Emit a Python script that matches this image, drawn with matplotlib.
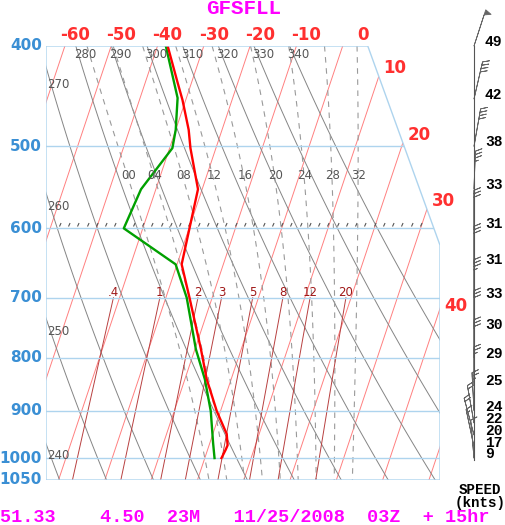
import numpy as np
import matplotlib
matplotlib.use("Agg")
import matplotlib.pyplot as plt
from matplotlib.patches import Polygon
from matplotlib.path import Path
from matplotlib.transforms import offset_copy

# ---- sounding (hPa, degC) ----
temp_p = [400, 434, 451, 482, 502, 550, 650, 700, 785, 839, 901, 948, 972, 982, 1000]
temp_t = [-37.8, -33.0, -30.7, -27.2, -25.5, -20.9, -19.0, -14.9, -8.7, -5.3, -0.8, 3.0, 4.0, 3.9, 3.6]
dewp_p = [400, 449, 482, 502, 550, 600, 650, 700, 785, 839, 901, 967, 1000]
dewp_t = [-38.2, -31.9, -30.0, -29.4, -33.2, -34.1, -20.3, -15.5, -9.8, -5.7, -2.1, 0.7, 2.1]

# winds: speed (kt) and shaft angle (deg clockwise from straight up)
wind_p = [400, 450, 500, 550, 600, 650, 700, 750, 800, 850, 900, 925, 950, 975, 1000]
wind_kt = [49, 42, 38, 33, 31, 31, 33, 30, 29, 25, 24, 22, 20, 17, 9]
wind_ang = [18, 13, 10, 2, 0, 0, 0, 0, 0, 0, -3, -10, -15, -12, -5]

# background line sets
pres_ticks = [400, 500, 600, 700, 800, 900, 1000, 1050]
isobars = [500, 600, 700, 800, 900, 1000]
isotherms = list(range(-60, 51, 10))
top_t_labels = [-60, -50, -40, -30, -20, -10, 0]
side_t_labels = [10, 20, 30, 40]
thetas = list(range(240, 341, 10))
theta_top_labels = [280, 290, 300, 310, 320, 330, 340]
theta_side_labels = [270, 260, 250, 240]
theta_side_p = [436, 572, 754, 995]
theta_w = list(range(0, 33, 4))
mix_ratio = [0.4, 1, 2, 3, 5, 8, 12, 20]
mix_text = [".4", "1", "2", "3", "5", "8", "12", "20"]
freeze_p = 600

title = "GFSFLL"
footer = "51.33    4.50  23M   11/25/2008  03Z  + 15hr"

SKEW = 32.5
X_LEFT, X_RIGHT = -34.3, 50.8
X_CORNER, P_KNEE = 35.2, 623

BLUE = "#3a8fd4"
LBLUE = "#aed4ee"
RED = "#ff3030"
MAG = "#ff00ff"


def skew_x(t, p):
    return np.asarray(t, float) + SKEW * np.log(1000.0 / np.asarray(p, float))


def esat(tc):
    return 6.112 * np.exp(17.67 * tc / (tc + 243.5))


def moist_curve(tw, p):
    # pseudo-adiabat through (1000 hPa, tw), integrated in ln p with RK4
    Rd, Cp, Lv, eps = 287.04, 1005.7, 2.501e6, 0.622

    def slope(T, pp):
        es = esat(T - 273.15)
        rs = eps * es / (pp - es)
        return (Rd * T + Lv * rs) / (Cp + Lv ** 2 * rs * eps / (Rd * T ** 2))

    res = {}
    for targets in (np.sort(p[p <= 1000])[::-1], np.sort(p[p > 1000])):
        T, pc = tw + 273.15, 1000.0
        for pt in targets:
            n = 8
            h = (np.log(pt) - np.log(pc)) / n
            for _ in range(n):
                lp = np.log(pc)
                k1 = slope(T, np.exp(lp))
                k2 = slope(T + h * k1 / 2, np.exp(lp + h / 2))
                k3 = slope(T + h * k2 / 2, np.exp(lp + h / 2))
                k4 = slope(T + h * k3, np.exp(lp + h))
                T += h * (k1 + 2 * k2 + 2 * k3 + k4) / 6
                pc = np.exp(lp + h)
            res[pt] = T - 273.15
    pp = np.array(sorted(res))
    tt = np.array([res[k] for k in pp])
    return pp, tt


fig = plt.figure(figsize=(5.06, 5.25), dpi=100)
ax = fig.add_axes([46 / 506, 45 / 525, 394 / 506, 434 / 525])
ax.set_yscale("log")
ax.set_ylim(1050, 400)
ax.set_xlim(X_LEFT, X_RIGHT)
ax.set_axis_off()

frame = Polygon([(X_LEFT, 1050), (X_LEFT, 400), (X_CORNER, 400),
                 (X_RIGHT, P_KNEE), (X_RIGHT, 1050)], closed=True,
                fill=False, edgecolor=LBLUE, lw=1.0, zorder=6,
                transform=ax.transData)
ax.add_patch(frame)

p_all = np.geomspace(400, 1050, 120)


def clipped(lines):
    for ln in lines:
        ln.set_clip_path(frame)


# isotherms
for t in isotherms:
    clipped(ax.plot(skew_x(np.full_like(p_all, t), p_all), p_all,
                    color="#ff8080", lw=0.7, zorder=2))

# dry adiabats
for th in thetas:
    tt = th * (p_all / 1000.0) ** 0.2857 - 273.15
    clipped(ax.plot(skew_x(tt, p_all), p_all, color="#858585", lw=0.7, zorder=2))

# moist adiabats
for tw in theta_w:
    pp, tt = moist_curve(tw, p_all)
    clipped(ax.plot(skew_x(tt, pp), pp, color="#9a9a9a", lw=0.8,
                    ls=(0, (5, 5)), zorder=2))
    lp = 534.0
    tl = np.interp(np.log(lp), np.log(pp), tt)
    ax.text(skew_x(tl, lp), lp, f"{tw:02d}", ha="center", va="center",
            fontsize=8.5, color="#555555", zorder=7,
            transform=offset_copy(ax.transData, fig=fig, x=1, y=0, units="dots"))

# mixing ratio lines below 700 hPa
p_low = np.geomspace(700, 1050, 40)
for w, lab in zip(mix_ratio, mix_text):
    e = (w / 1000.0) * p_low / (0.622 + w / 1000.0)
    td = 243.5 * np.log(e / 6.112) / (17.67 - np.log(e / 6.112))
    clipped(ax.plot(skew_x(td, p_low), p_low, color="#b84040", lw=0.7, zorder=2))
    ax.text(skew_x(td[0], 700), 700, lab, ha="center", va="bottom",
            fontsize=8.5, color="#a01818", zorder=7,
            transform=offset_copy(ax.transData, fig=fig, x=0, y=-1, units="dots"))

# isobars
for p in isobars:
    clipped(ax.plot([X_LEFT, X_RIGHT], [p, p], color=LBLUE, lw=1.0, zorder=3))

# tick marks along the 600 hPa line
tick = Path([(0, 0), (0.45, 1.0)], [Path.MOVETO, Path.LINETO])
fx = np.arange(-31.75, 46.5, 2.0)
ax.plot(fx, np.full_like(fx, freeze_p), ls="none", marker=tick, ms=5,
        mew=0.8, color="#555555", zorder=4,
        transform=offset_copy(ax.transData, fig=fig, x=1, y=2, units="dots"))

# sounding
clipped(ax.plot(skew_x(dewp_t, dewp_p), dewp_p, color="#00a000", lw=1.7,
                zorder=5, solid_joinstyle="round"))
clipped(ax.plot(skew_x(temp_t, temp_p), temp_p, color="#ff0000", lw=1.7,
                zorder=5, solid_joinstyle="round"))

# pressure labels
for p in pres_ticks:
    ax.text(X_LEFT, p, str(p), ha="right", va="center", fontsize=11,
            fontweight="bold", color=BLUE,
            transform=offset_copy(ax.transData, fig=fig, x=-4, y=0, units="dots"))

# top temperature labels
for t in top_t_labels:
    dx = 20 if t == 0 else 10
    ax.text(skew_x(t, 400), 400, str(t), ha="center", va="center", fontsize=12,
            fontweight="bold", color=RED,
            transform=offset_copy(ax.transData, fig=fig, x=dx, y=11, units="dots"))

# side temperature labels where isotherms meet the right edge
l4, lk = np.log(400), np.log(P_KNEE)
for t in side_t_labels:
    a = (X_RIGHT - X_CORNER) / (lk - l4)
    lp = (t + SKEW * np.log(1000) - X_CORNER + a * l4) / (SKEW + a)
    dy = 8
    if lp > lk:
        lp = np.log(1000) - (X_RIGHT - t) / SKEW
        dy = 3
    p = np.exp(lp)
    ax.text(skew_x(t, p), p, str(t), ha="center", va="center", fontsize=12,
            fontweight="bold", color=RED,
            transform=offset_copy(ax.transData, fig=fig, x=16, y=dy, units="dots"))

# theta labels
for th in theta_top_labels:
    t4 = th * 0.4 ** 0.2857 - 273.15
    ax.text(skew_x(t4, 400), 400, str(th), ha="left", va="center", fontsize=8.5,
            color="#555555", zorder=7,
            transform=offset_copy(ax.transData, fig=fig, x=-2, y=-9, units="dots"))
for th, p in zip(theta_side_labels, theta_side_p):
    ax.text(X_LEFT, p, str(th), ha="left", va="center", fontsize=8.5,
            color="#555555", zorder=7,
            transform=offset_copy(ax.transData, fig=fig, x=1, y=0, units="dots"))

# ---- wind column ----
axw = fig.add_axes([450 / 506, 45 / 525, 56 / 506, 434 / 525])
axw.set_yscale("log")
axw.set_ylim(1050, 400)
axw.set_xlim(-24, 32)
axw.set_axis_off()
axw.plot([0, 0], [1005, 400], color="#555555", lw=0.8)
ang = np.radians(wind_ang)
spd = np.array(wind_kt, float)
u = -spd * np.sin(ang)
v = -spd * np.cos(ang)
axw.barbs(np.zeros(len(wind_p)), wind_p, u, v, length=7.4, pivot="tip",
          color="#666666", linewidth=0.6, clip_on=False,
          sizes=dict(spacing=0.09, height=0.17, width=0.14, emptybarb=0.0))
for p, s in zip(wind_p, wind_kt):
    axw.text(11, p, str(s), ha="left", va="center", fontsize=10.5,
             family="Liberation Mono", fontweight="bold", color="black",
             transform=offset_copy(axw.transData, fig=fig, x=0, y=4, units="dots"))

fig.text(480 / 506, 1 - 490 / 525, "SPEED", ha="center", va="center",
         fontsize=10.2, family="Liberation Mono", fontweight="bold")
fig.text(480 / 506, 1 - 503 / 525, "(knts)", ha="center", va="center",
         fontsize=10.2, family="Liberation Mono", fontweight="bold")

fig.text(244 / 506, 1 - 8 / 525, title, ha="center", va="center", fontsize=15,
         family="Liberation Mono", fontweight="bold", color=MAG)
fig.text(0, 1 - 517 / 525, footer, ha="left", va="center", fontsize=13.3,
         family="Liberation Mono", fontweight="bold", color=MAG)

fig.savefig("out.png", dpi=100)
